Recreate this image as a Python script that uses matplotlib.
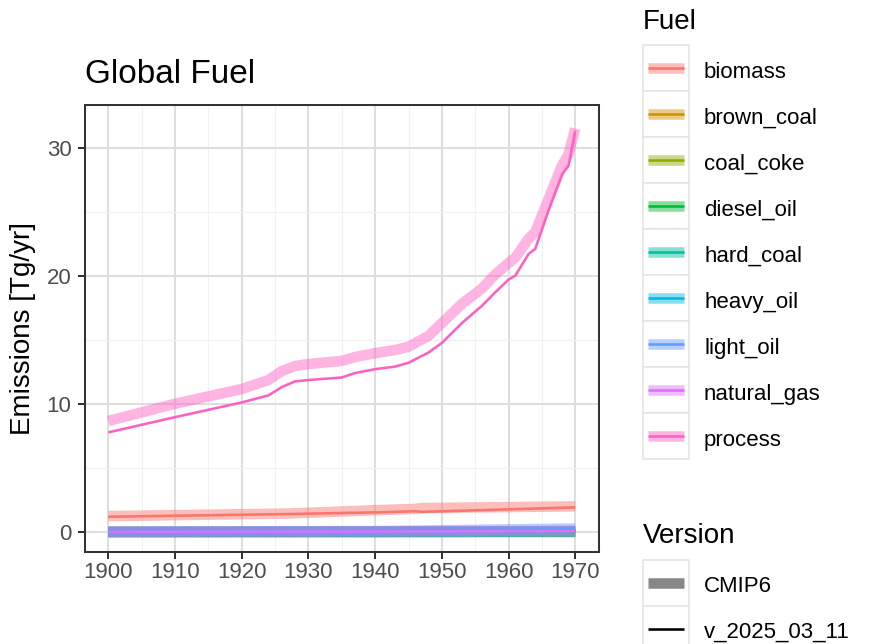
import matplotlib
matplotlib.use("Agg")
import matplotlib.pyplot as plt
from matplotlib.patches import Rectangle

plt.rcParams['font.family'] = ['Liberation Sans', 'DejaVu Sans']

# ---------------- data ----------------
fuels = ["biomass", "brown_coal", "coal_coke", "diesel_oil", "hard_coal",
         "heavy_oil", "light_oil", "natural_gas", "process"]
fuel_colors = ["#F8766D", "#D39200", "#93AA00", "#00BA38", "#00C19F",
               "#00B9E3", "#619CFF", "#DB72FB", "#FF61C3"]
versions = ["CMIP6", "v_2025_03_11"]

process_years = [1900, 1910, 1920, 1924, 1926, 1928, 1930, 1935, 1937, 1940,
                 1943, 1945, 1948, 1950, 1953, 1956, 1958, 1960, 1961, 1963,
                 1964, 1966, 1968, 1969, 1970]
process_v2025 = [7.76, 8.95, 10.1, 10.65, 11.3, 11.75, 11.85, 12.05, 12.4, 12.7,
                 12.9, 13.2, 14.0, 14.75, 16.3, 17.65, 18.7, 19.7, 20.0, 21.7,
                 22.1, 25.1, 27.9, 28.6, 31.3]
process_cmip6 = [8.65, 10.0, 11.15, 11.85, 12.55, 12.95, 13.1, 13.35, 13.65, 13.95,
                 14.2, 14.45, 15.3, 16.3, 17.8, 19.0, 20.1, 21.0, 21.4, 22.9,
                 23.4, 26.0, 28.6, 29.5, 31.5]

biomass_years = [1900, 1927, 1941, 1946, 1947, 1970]
biomass_v2025 = [1.17, 1.38, 1.52, 1.60, 1.55, 1.90]
biomass_cmip6 = [1.22, 1.42, 1.70, 1.78, 1.85, 1.98]

small_years = [1900, 1940, 1970]
brown_coal_v2025 = [0.0, 0.01, 0.02]
brown_coal_cmip6 = [0.0, 0.01, 0.02]
coal_coke_v2025 = [0.0, 0.01, 0.01]
coal_coke_cmip6 = [-0.04, -0.03, -0.02]
diesel_oil_v2025 = [0.0, 0.01, 0.03]
diesel_oil_cmip6 = [-0.04, -0.03, -0.02]
hard_coal_v2025 = [0.0, 0.02, 0.04]
hard_coal_cmip6 = [-0.03, -0.02, 0.0]
heavy_oil_v2025 = [0.0, 0.02, 0.06]
heavy_oil_cmip6 = [0.0, 0.02, 0.06]
light_oil_v2025 = [0.0, 0.04, 0.18]
light_oil_cmip6 = [0.01, 0.05, 0.25]
natural_gas_v2025 = [0.0, 0.01, 0.03]
natural_gas_cmip6 = [0.0, 0.02, 0.04]

series = {
    "biomass": (biomass_years, biomass_cmip6, biomass_v2025),
    "brown_coal": (small_years, brown_coal_cmip6, brown_coal_v2025),
    "coal_coke": (small_years, coal_coke_cmip6, coal_coke_v2025),
    "diesel_oil": (small_years, diesel_oil_cmip6, diesel_oil_v2025),
    "hard_coal": (small_years, hard_coal_cmip6, hard_coal_v2025),
    "heavy_oil": (small_years, heavy_oil_cmip6, heavy_oil_v2025),
    "light_oil": (small_years, light_oil_cmip6, light_oil_v2025),
    "natural_gas": (small_years, natural_gas_cmip6, natural_gas_v2025),
    "process": (process_years, process_cmip6, process_v2025),
}

x_ticks = [1900, 1910, 1920, 1930, 1940, 1950, 1960, 1970]
y_ticks = [0, 10, 20, 30]

# ---------------- layout ----------------
W, H = 874, 644
DPI = 100
PX = 72.0 / DPI  # points per pixel
fig = plt.figure(figsize=(W / DPI, H / DPI), dpi=DPI)
L, R, T, B = 85, 598.6, 105, 551.7
ax = fig.add_axes([L / W, 1 - B / H, (R - L) / W, (B - T) / H])

THICK = 10.5 * PX
THIN = 2.6 * PX
ALPHA = 0.47

for fuel, col in zip(fuels, fuel_colors):
    yrs, cm, _ = series[fuel]
    ax.plot(yrs, cm, color=col, alpha=ALPHA, lw=THICK,
            solid_capstyle='butt', solid_joinstyle='round', zorder=2)
for fuel, col in zip(fuels, fuel_colors):
    yrs, _, v = series[fuel]
    ax.plot(yrs, v, color=col, lw=THIN, solid_capstyle='butt',
            solid_joinstyle='round', zorder=3)

ax.set_xlim(1896.5, 1973.5)
ax.set_ylim(-1.5625, 33.34)
ax.set_xticks(x_ticks)
ax.set_xticks([1905, 1915, 1925, 1935, 1945, 1955, 1965], minor=True)
ax.set_yticks(y_ticks)
ax.set_yticks([5, 15, 25], minor=True)
ax.set_xticklabels([str(t) for t in x_ticks])
ax.set_yticklabels([str(t) for t in y_ticks])
ax.grid(which='major', color='#DEDEDE', lw=1.45)
ax.grid(which='minor', color='#F1F1F1', lw=0.75)
ax.set_axisbelow(True)
for s in ax.spines.values():
    s.set_color('#333333')
    s.set_linewidth(1.45)
ax.tick_params(which='major', length=5.2, width=1.45, color='#333333',
               labelsize=16, labelcolor='#4D4D4D')
ax.tick_params(axis='x', which='major', pad=2.5)
ax.tick_params(axis='y', which='major', pad=4.6)
ax.tick_params(which='minor', length=0)

# ---------------- overlay (titles, legend) ----------------
ov = fig.add_axes([0, 0, 1, 1])
ov.set_xlim(0, W)
ov.set_ylim(H, 0)
ov.axis('off')
ov.patch.set_alpha(0)

ov.text(85, 83.3, "Global Fuel", fontsize=24, color='black',
        ha='left', va='baseline')
ov.text(23, (T + B) / 2, "Emissions [Tg/yr]", fontsize=20, color='black',
        rotation=90, ha='center', va='center')

KX0, KX1 = 643.3, 689.3
KEY = 46.0
LX0, LX1 = 648, 684
TX = 704

ov.text(643, 28.5, "Fuel", fontsize=20, ha='left', va='baseline')
top = 45.0
for i, (fuel, col) in enumerate(zip(fuels, fuel_colors)):
    y0 = top + i * KEY
    ov.add_patch(Rectangle((KX0, y0), KX1 - KX0, KEY, facecolor='white',
                           edgecolor='#E3E3E3', lw=1.5 * PX))
    yc = y0 + KEY / 2
    ov.plot([LX0, LX1], [yc, yc], color=col, alpha=ALPHA, lw=THICK,
            solid_capstyle='butt')
    ov.plot([LX0, LX1], [yc, yc], color=col, lw=THIN, solid_capstyle='butt')
    ov.text(TX, yc + 9.7, fuel, fontsize=16, ha='left', va='baseline')

ov.text(643, 543, "Version", fontsize=20, ha='left', va='baseline')
vtop = 560.0
for i, ver in enumerate(versions):
    y0 = vtop + i * KEY
    ov.add_patch(Rectangle((KX0, y0), KX1 - KX0, KEY, facecolor='white',
                           edgecolor='#E3E3E3', lw=1.5 * PX))
    yc = y0 + KEY / 2
    if ver == "CMIP6":
        ov.plot([LX0, LX1], [yc, yc], color='black', alpha=ALPHA, lw=THICK,
                solid_capstyle='butt')
    else:
        ov.plot([LX0, LX1], [yc, yc], color='black', lw=THIN,
                solid_capstyle='butt')
    ov.text(TX, yc + 8.7, ver, fontsize=16, ha='left', va='baseline')

fig.savefig("out.png", dpi=DPI)
